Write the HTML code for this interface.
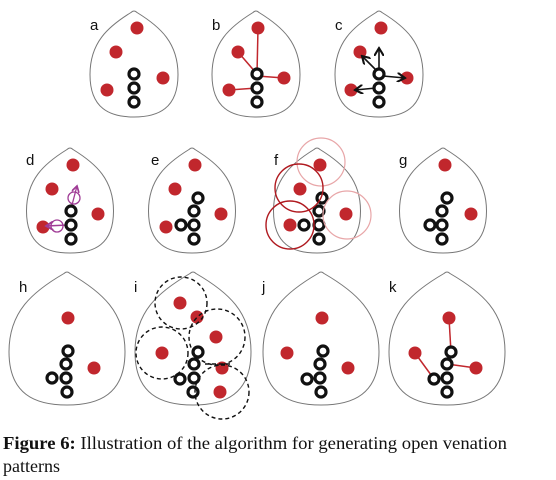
<!DOCTYPE html>
<html><head><meta charset="utf-8"><style>
html,body{margin:0;padding:0;background:#fff;}
svg{display:block;}
.leaf{fill:none;stroke:#777;stroke-width:1;}
.dot{fill:#c1272d;}
.ring{fill:#fff;stroke:#111;stroke-width:3.2;}
.lbl{font-family:"Liberation Sans",sans-serif;font-size:15px;fill:#111;}
.rl{stroke:#c1272d;stroke-width:1.5;}
.ar{stroke:#111;stroke-width:1.6;fill:none;}
.dash{fill:none;stroke:#111;stroke-width:1.4;stroke-dasharray:4,3;}
</style></head><body>
<svg width="556" height="480" viewBox="0 0 556 480">
<defs>
<marker id="ah" markerWidth="6" markerHeight="6" refX="5" refY="3" orient="auto"><path d="M0,0 L5,3 L0,6" fill="none" stroke="#111" stroke-width="1.3"/></marker>
<marker id="ahp" markerWidth="6" markerHeight="6" refX="5" refY="3" orient="auto"><path d="M0,0 L5,3 L0,6" fill="none" stroke="#a03c96" stroke-width="1.3"/></marker>
</defs>
<g id="leaves"></g>

<g>
<text class="lbl" x="90" y="30">a</text>
<circle class="dot" cx="137" cy="28" r="6.5"/><circle class="dot" cx="116" cy="52" r="6.5"/><circle class="dot" cx="163" cy="78" r="6.5"/><circle class="dot" cx="107" cy="90" r="6.5"/>
<circle class="ring" cx="134" cy="74" r="5"/><circle class="ring" cx="134" cy="88" r="5"/><circle class="ring" cx="134" cy="102" r="5"/>
</g>
<g>
<text class="lbl" x="212" y="30">b</text>
<line class="rl" x1="258" y1="28" x2="257" y2="74"/><line class="rl" x1="238" y1="52" x2="257" y2="74"/><line class="rl" x1="284" y1="78" x2="257" y2="76"/><line class="rl" x1="229" y1="90" x2="257" y2="88"/>
<circle class="dot" cx="258" cy="28" r="6.5"/><circle class="dot" cx="238" cy="52" r="6.5"/><circle class="dot" cx="284" cy="78" r="6.5"/><circle class="dot" cx="229" cy="90" r="6.5"/>
<circle class="ring" cx="257" cy="74" r="5"/><circle class="ring" cx="257" cy="88" r="5"/><circle class="ring" cx="257" cy="102" r="5"/>
</g>
<g>
<text class="lbl" x="335" y="30">c</text>
<circle class="dot" cx="381" cy="28" r="6.5"/><circle class="dot" cx="360" cy="52" r="6.5"/><circle class="dot" cx="407" cy="78" r="6.5"/><circle class="dot" cx="351" cy="90" r="6.5"/>
<line class="ar" x1="379" y1="70" x2="379" y2="48" marker-end="url(#ah)"/>
<line class="ar" x1="377" y1="71" x2="362" y2="56" marker-end="url(#ah)"/>
<line class="ar" x1="383" y1="76" x2="405" y2="78" marker-end="url(#ah)"/>
<line class="ar" x1="376" y1="88" x2="355" y2="90" marker-end="url(#ah)"/>
<circle class="ring" cx="379" cy="74" r="5"/><circle class="ring" cx="379" cy="88" r="5"/><circle class="ring" cx="379" cy="102" r="5"/>
</g>
<g>
<text class="lbl" x="26" y="165">d</text>
<circle class="dot" cx="73" cy="165" r="6.5"/><circle class="dot" cx="52" cy="189" r="6.5"/><circle class="dot" cx="98" cy="214" r="6.5"/><circle class="dot" cx="43" cy="227" r="6.5"/>
<circle cx="74" cy="198" r="6" fill="none" stroke="#a03c96" stroke-width="1.3"/>
<line x1="72" y1="205" x2="77" y2="186" stroke="#a03c96" stroke-width="1.3" marker-end="url(#ahp)"/>
<circle cx="57" cy="226" r="6" fill="none" stroke="#a03c96" stroke-width="1.3"/>
<line x1="68" y1="225" x2="46" y2="226" stroke="#a03c96" stroke-width="1.5" marker-end="url(#ahp)"/>
<circle class="ring" cx="71" cy="211" r="5"/><circle class="ring" cx="71" cy="225" r="5"/><circle class="ring" cx="71" cy="239" r="5"/>
</g>
<g>
<text class="lbl" x="151" y="165">e</text>
<circle class="dot" cx="195" cy="165" r="6.5"/><circle class="dot" cx="175" cy="189" r="6.5"/><circle class="dot" cx="221" cy="214" r="6.5"/><circle class="dot" cx="166" cy="227" r="6.5"/>
<circle class="ring" cx="198" cy="198" r="5"/><circle class="ring" cx="194" cy="211" r="5"/><circle class="ring" cx="194" cy="225" r="5"/><circle class="ring" cx="194" cy="239" r="5"/><circle class="ring" cx="181" cy="225" r="5"/>
</g>
<g>
<text class="lbl" x="274" y="165">f</text>
<circle class="dot" cx="320" cy="165" r="6.5"/><circle class="dot" cx="300" cy="189" r="6.5"/><circle class="dot" cx="346" cy="214" r="6.5"/><circle class="dot" cx="290" cy="225" r="6.5"/>
<circle class="ring" cx="322" cy="198" r="5"/><circle class="ring" cx="319" cy="211" r="5"/><circle class="ring" cx="319" cy="225" r="5"/><circle class="ring" cx="319" cy="239" r="5"/><circle class="ring" cx="304" cy="225" r="5"/>
<circle cx="321" cy="162" r="24" fill="none" stroke="#e8a6a8" stroke-width="1.2"/>
<circle cx="347" cy="215" r="24" fill="none" stroke="#e8a6a8" stroke-width="1.2"/>
<circle cx="299" cy="188" r="24" fill="none" stroke="#b01a20" stroke-width="1.4"/>
<circle cx="290" cy="225" r="24" fill="none" stroke="#b01a20" stroke-width="1.4"/>
</g>
<g>
<text class="lbl" x="399" y="165">g</text>
<circle class="dot" cx="445" cy="165" r="6.5"/><circle class="dot" cx="471" cy="214" r="6.5"/>
<circle class="ring" cx="447" cy="198" r="5"/><circle class="ring" cx="442" cy="211" r="5"/><circle class="ring" cx="442" cy="225" r="5"/><circle class="ring" cx="442" cy="239" r="5"/><circle class="ring" cx="430" cy="225" r="5"/>
</g>
<g>
<text class="lbl" x="19" y="292">h</text>
<circle class="dot" cx="68" cy="318" r="6.5"/><circle class="dot" cx="94" cy="368" r="6.5"/>
<circle class="ring" cx="68" cy="351" r="5"/><circle class="ring" cx="66" cy="364" r="5"/><circle class="ring" cx="66" cy="378" r="5"/><circle class="ring" cx="67" cy="392" r="5"/><circle class="ring" cx="52" cy="378" r="5"/>
</g>
<g>
<text class="lbl" x="134" y="292">i</text>
<circle class="dot" cx="180" cy="303" r="6.5"/><circle class="dot" cx="197" cy="317" r="6.5"/><circle class="dot" cx="216" cy="337" r="6.5"/><circle class="dot" cx="162" cy="353" r="6.5"/><circle class="dot" cx="222" cy="368" r="6.5"/><circle class="dot" cx="220" cy="392" r="6.5"/>
<circle class="ring" cx="198" cy="352" r="5"/><circle class="ring" cx="194" cy="364" r="5"/><circle class="ring" cx="194" cy="378" r="5"/><circle class="ring" cx="193" cy="392" r="5"/><circle class="ring" cx="180" cy="379" r="5"/>
<circle class="dash" cx="181" cy="303" r="26"/>
<circle class="dash" cx="217" cy="337" r="28"/>
<circle class="dash" cx="162" cy="353" r="26"/>
<circle class="dash" cx="222" cy="392" r="27"/>
<line class="dash" x1="205" y1="364" x2="230" y2="364"/>
</g>
<g>
<text class="lbl" x="262" y="292">j</text>
<circle class="dot" cx="322" cy="318" r="6.5"/><circle class="dot" cx="287" cy="353" r="6.5"/><circle class="dot" cx="348" cy="368" r="6.5"/>
<circle class="ring" cx="323" cy="351" r="5"/><circle class="ring" cx="320" cy="364" r="5"/><circle class="ring" cx="320" cy="378" r="5"/><circle class="ring" cx="321" cy="392" r="5"/><circle class="ring" cx="307" cy="379" r="5"/>
</g>
<g>
<text class="lbl" x="389" y="292">k</text>
<line class="rl" x1="449" y1="318" x2="451" y2="352"/><line class="rl" x1="415" y1="353" x2="434" y2="379"/><line class="rl" x1="476" y1="368" x2="447" y2="364"/>
<circle class="dot" cx="449" cy="318" r="6.5"/><circle class="dot" cx="415" cy="353" r="6.5"/><circle class="dot" cx="476" cy="368" r="6.5"/>
<circle class="ring" cx="451" cy="352" r="5"/><circle class="ring" cx="447" cy="364" r="5"/><circle class="ring" cx="447" cy="378" r="5"/><circle class="ring" cx="447" cy="392" r="5"/><circle class="ring" cx="434" cy="379" r="5"/>
</g>

<text x="3" y="449" font-family="'Liberation Serif',serif" font-size="18" fill="#111" textLength="504" lengthAdjust="spacingAndGlyphs"><tspan font-weight="bold">Figure 6:</tspan> Illustration of the algorithm for generating open venation</text>
<text x="3" y="472" font-family="'Liberation Serif',serif" font-size="18" fill="#111">patterns</text>
</svg>
<script>
const leafCenters = [[134,11,88,106],[256,11,88,106],[379,11,88,106],[70,148,87,105],[192,148,87,105],[317,148,87,105],[443,148,87,105],[67,272,116,133],[193,272,116,133],[321,272,116,133],[447,272,116,133]];
const g = document.getElementById('leaves');
leafCenters.forEach(function(l){
  const x=l[0],y=l[1],w=l[2]/2,h=l[3];
  const p=document.createElementNS('http://www.w3.org/2000/svg','path');
  p.setAttribute('d','M'+(x-3)+','+(y+1.5)+' Q'+x+','+(y-1.5)+' '+(x+3)+','+(y+1.5)+
    ' C'+(x+w*0.6)+','+(y+h*0.15)+' '+(x+w)+','+(y+h*0.3)+' '+(x+w)+','+(y+h*0.6)+
    ' C'+(x+w)+','+(y+h*0.92)+' '+(x+w*0.55)+','+(y+h)+' '+x+','+(y+h)+
    ' C'+(x-w*0.55)+','+(y+h)+' '+(x-w)+','+(y+h*0.92)+' '+(x-w)+','+(y+h*0.6)+
    ' C'+(x-w)+','+(y+h*0.3)+' '+(x-w*0.6)+','+(y+h*0.15)+' '+(x-3)+','+(y+1.5)+' Z');
  p.setAttribute('class','leaf');
  
  
  g.appendChild(p);
});
</script>
</body></html>
